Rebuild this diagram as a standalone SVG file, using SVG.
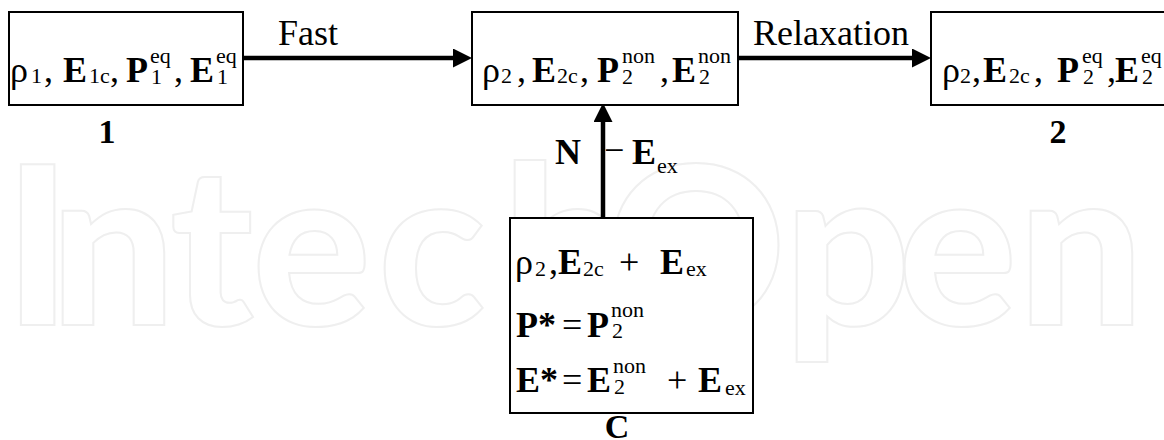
<svg xmlns="http://www.w3.org/2000/svg" width="1164" height="440" viewBox="0 0 1164 440">
<style>
.wm{font-family:Lato,"Open Sans",sans-serif;font-weight:900;font-size:222px;fill:none;stroke:#efefef;stroke-width:2}
.box{fill:#fff;stroke:#000;stroke-width:2}
.m{font-family:"Liberation Serif","Times New Roman",serif;font-size:36px;fill:#000}
.b{font-weight:bold}
.s{font-size:22px}
.lbl{font-family:"Liberation Serif","Times New Roman",serif;font-size:34px;font-weight:bold;text-anchor:middle}
.con{fill:none;stroke:#000;stroke-width:4.5}
</style>
<defs>
<marker id="ah" markerUnits="userSpaceOnUse" markerWidth="20" markerHeight="20" refX="9" refY="9.5" orient="auto">
<path d="M0,0 L19,9.5 L0,19 Z" fill="#000"/>
</marker>
</defs>
<rect width="1164" height="440" fill="#fff"/>
<text class="wm" y="325"><tspan x="4">I</tspan><tspan x="50">n</tspan><tspan x="170">t</tspan><tspan x="252">e</tspan><tspan x="378">c</tspan><tspan x="502">h</tspan><tspan x="606">O</tspan><tspan x="784">p</tspan><tspan x="898">e</tspan><tspan x="1018">n</tspan></text>

<g id="connectors">
<path class="con" d="M243,58 H462" marker-end="url(#ah)"/>
<path class="con" d="M738,58 H921" marker-end="url(#ah)"/>
<path class="con" d="M603,218 V113" marker-end="url(#ah)"/>
<text class="m" x="278" y="45">Fast</text>
<text class="m" x="753" y="45">Relaxation</text>
<text class="m b" x="555" y="164">N</text>
<text class="m" x="604" y="162">−</text>
<text class="m"><tspan class="b" x="632" y="164">E</tspan><tspan class="s" x="657" y="173">ex</tspan></text>
</g>

<g id="node1">
<rect class="box" x="9" y="12" width="234" height="93"/>
<text class="m"><tspan x="10" y="82">ρ</tspan><tspan class="s" x="31" y="83">1</tspan><tspan x="44" y="82">,</tspan><tspan class="b" x="63" y="82">E</tspan><tspan class="s" x="89" y="83">1c</tspan><tspan x="110" y="82">,</tspan><tspan class="b" x="126" y="82">P</tspan><tspan class="s" x="150" y="63">eq</tspan><tspan class="s" x="151" y="84">1</tspan><tspan x="174" y="82">,</tspan><tspan class="b" x="190" y="82">E</tspan><tspan class="s" x="216" y="63">eq</tspan><tspan class="s" x="217" y="84">1</tspan></text>
<text class="lbl" x="107" y="143">1</text>
</g>

<g id="node-intermediate">
<rect class="box" x="472" y="12" width="266" height="93"/>
<text class="m"><tspan x="482" y="82">ρ</tspan><tspan class="s" x="501" y="83">2</tspan><tspan x="517" y="82">,</tspan><tspan class="b" x="532" y="82">E</tspan><tspan class="s" x="557" y="83">2c</tspan><tspan x="580" y="82">,</tspan><tspan class="b" x="597" y="82">P</tspan><tspan class="s" x="622" y="63">non</tspan><tspan class="s" x="622" y="84">2</tspan><tspan x="660" y="82">,</tspan><tspan class="b" x="672" y="82">E</tspan><tspan class="s" x="698" y="63">non</tspan><tspan class="s" x="699" y="84">2</tspan></text>
</g>

<g id="node2">
<rect class="box" x="931" y="12" width="240" height="93"/>
<text class="m"><tspan x="942" y="82">ρ</tspan><tspan class="s" x="960" y="83">2</tspan><tspan x="972" y="82">,</tspan><tspan class="b" x="983" y="82">E</tspan><tspan class="s" x="1009" y="83">2c</tspan><tspan x="1034" y="82">,</tspan><tspan class="b" x="1057" y="82">P</tspan><tspan class="s" x="1082" y="63">eq</tspan><tspan class="s" x="1083" y="84">2</tspan><tspan x="1107" y="82">,</tspan><tspan class="b" x="1115" y="82">E</tspan><tspan class="s" x="1141" y="63">eq</tspan><tspan class="s" x="1142" y="84">2</tspan></text>
<text class="lbl" x="1058" y="143">2</text>
</g>

<g id="nodeC">
<rect class="box" x="510" y="218" width="243" height="195"/>
<text class="m"><tspan x="515" y="274">ρ</tspan><tspan class="s" x="535" y="276">2</tspan><tspan x="549" y="274">,</tspan><tspan class="b" x="558" y="274">E</tspan><tspan class="s" x="583" y="276">2c</tspan><tspan x="619" y="274">+</tspan><tspan class="b" x="660" y="274">E</tspan><tspan class="s" x="686" y="276">ex</tspan></text>
<text class="m"><tspan class="b" x="516" y="337">P*</tspan><tspan x="562" y="337">=</tspan><tspan class="b" x="587" y="337">P</tspan><tspan class="s" x="611" y="317">non</tspan><tspan class="s" x="612" y="338">2</tspan></text>
<text class="m"><tspan class="b" x="516" y="392">E*</tspan><tspan x="562" y="392">=</tspan><tspan class="b" x="587" y="392">E</tspan><tspan class="s" x="613" y="373">non</tspan><tspan class="s" x="614" y="394">2</tspan><tspan x="667" y="392">+</tspan><tspan class="b" x="698" y="392">E</tspan><tspan class="s" x="725" y="395">ex</tspan></text>
<text class="lbl" x="617" y="438">C</text>
</g>
</svg>
